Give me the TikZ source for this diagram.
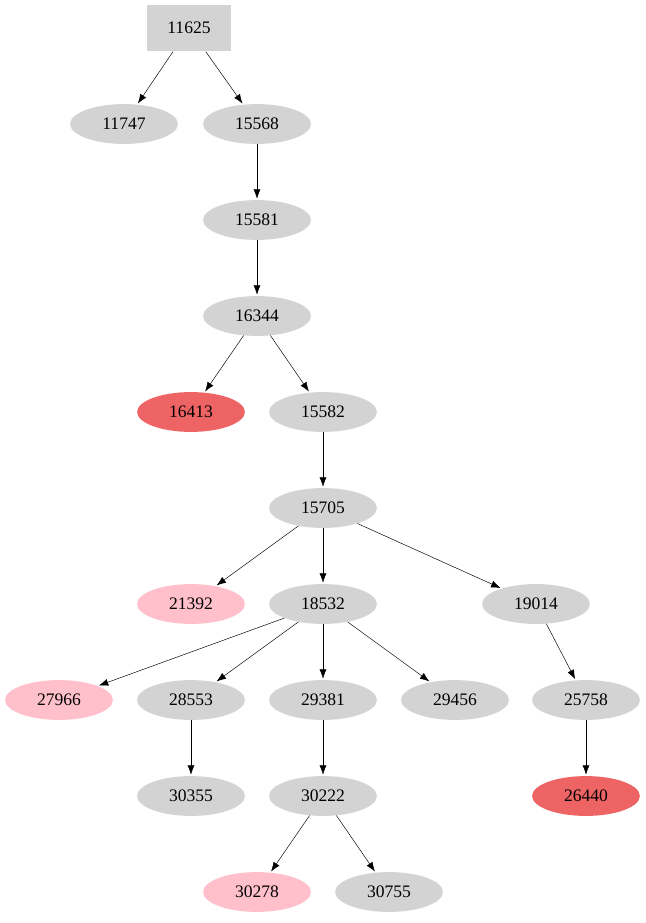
\documentclass[tikz,border=0pt]{standalone}
\usepackage{fontspec}
\setmainfont{Liberation Serif}
\usetikzlibrary{shapes.geometric}
\usetikzlibrary{arrows.meta}
\definecolor{nodegray}{HTML}{D3D3D3}
\definecolor{hotred}{HTML}{EE6363}
\definecolor{softpink}{HTML}{FFC0CB}
\begin{document}
\begin{tikzpicture}[x=0.03cm,y=-0.03cm,-{Latex[length=8pt,width=6pt]},shorten >=1pt,
  main node/.style={ellipse, fill=nodegray, minimum width=92pt, minimum height=34pt, inner sep=0pt, font=\fontsize{15}{17}\selectfont},
  root node/.style={rectangle, fill=nodegray, minimum width=72pt, minimum height=40pt, inner sep=0pt, font=\fontsize{15}{17}\selectfont}]
			\useasboundingbox (0,0) rectangle (646,923);
			% Nodes
			\node[root node] (1) at (189,28) {11625};
			\node[main node] (2) at (124,124) {11747};
			\node[main node] (3) at (257,124) {15568};
			\node[main node] (4) at (257,220) {15581};
			\node[main node] (5) at (257,316) {16344};
			\node[main node, fill=hotred] (6) at (191,412) {16413};
			\node[main node] (7) at (323,412) {15582};
			\node[main node] (8) at (323,508) {15705};
			\node[main node, fill=softpink] (9) at (191,604) {21392};
			\node[main node] (10) at (323,604) {18532};
			\node[main node] (11) at (536,604) {19014};
			\node[main node, fill=softpink] (12) at (59,700) {27966};
			\node[main node] (13) at (191,700) {28553};
			\node[main node] (14) at (323,700) {29381};
			\node[main node] (15) at (455,700) {29456};
			\node[main node] (16) at (586,700) {25758};
			\node[main node] (17) at (191,796) {30355};
			\node[main node] (18) at (323,796) {30222};
			\node[main node, fill=hotred] (19) at (586,796) {26440};
			\node[main node, fill=softpink] (20) at (257,892) {30278};
			\node[main node] (21) at (389,892) {30755};
			
			\path
			(1) edge (2) edge (3)
			(3) edge (4)
			(4) edge (5)
			(5) edge (6) edge (7)
			(7) edge (8)
			(8) edge (9) edge (10) edge (11)
			(10) edge (12) edge (13) edge (14) edge (15)
			(11) edge (16)
			(13) edge (17)
			(14) edge (18)
			(16) edge (19)
			(18) edge (20) edge (21);
		\end{tikzpicture}
\end{document}
